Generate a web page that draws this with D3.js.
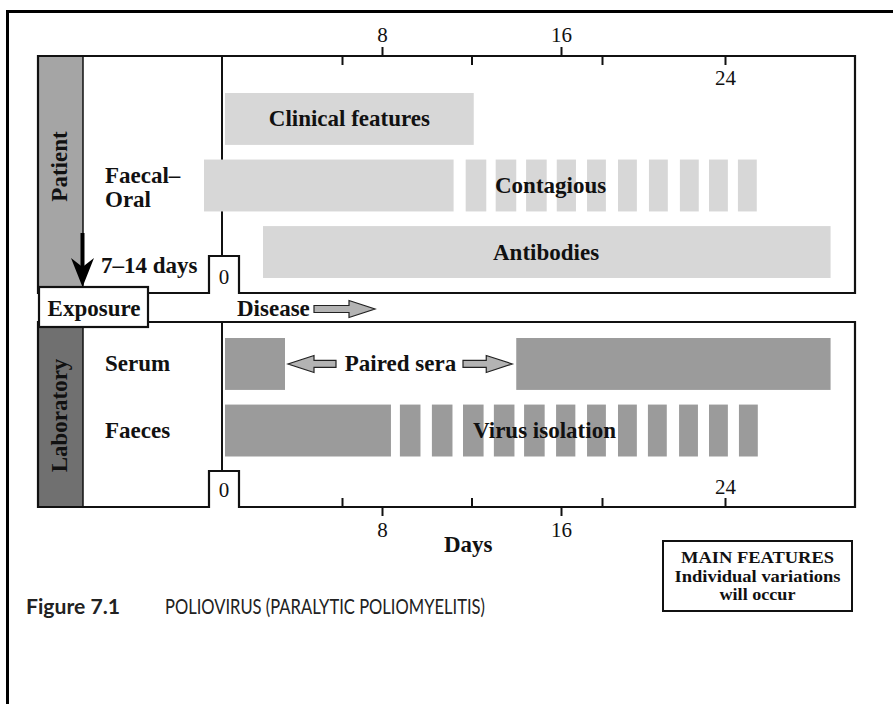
<!DOCTYPE html>
<html>
<head>
<meta charset="utf-8">
<script src="https://cdn.jsdelivr.net/npm/d3@7"></script>
<style>
  body { margin: 0; background: #fff; }
  .lbl { font-family: "Liberation Serif", "Times New Roman", serif; font-weight: bold; font-size: 23px; fill: #111; }
  .num { font-family: "Liberation Serif", "Times New Roman", serif; font-size: 21px; fill: #111; }
</style>
</head>
<body>
<svg width="893" height="704"></svg>
<script>
// day scale (hand drawn original, ticks not evenly spaced)
var dayStops = [0, 8, 16, 24, 30];
var outerTicks = [8, 16];
var innerTicks = [6, 12, 18, 24];
var innerLabels = [24];

var upperRows = ["Clinical features", "Contagious", "Antibodies"];
var lowerRows = ["Serum", "Faeces"];

var clinicalSpan = [0.15, 12.1];
var contagiousSolid = [-0.9, 11.2];
var contagiousDashes = [11.74, 13.08, 14.44, 15.81, 17.27, 18.78, 20.29, 21.8, 23.22, 24.63];
var antibodySpan = [2.05, 29.15];
var serumSpans = [[0.15, 3.15], [14.0, 29.15]];
var faecesSolid = [0.15, 8.4];
var faecesDashes = [8.8, 10.23, 11.62, 13.0, 14.35, 15.78, 17.27, 18.78, 20.24, 21.76, 23.22, 24.68];
var dashWidth = 0.92;

var noteLines = ["MAIN FEATURES", "Individual variations", "will occur"];
var noteWidths = [153, 166, 76];

var svg = d3.select("svg");
var x = d3.scaleLinear().domain(dayStops).range([222, 382, 561, 725, 848]);
var yUp = d3.scaleBand().domain(upperRows).range([93, 278]).paddingInner(0.22);
var yLo = d3.scaleBand().domain(lowerRows).range([338, 456.5]).paddingInner(0.22);

var light = "#d7d7d7", mid = "#9b9b9b";

// outer frame
svg.append("path").attr("d", "M7.5,704 V11.5 H893").attr("fill", "none")
    .attr("stroke", "#000").attr("stroke-width", 3);

// panels
var panels = [
    { top: 56, bottom: 293, side: "#a5a5a5", name: "Patient" },
    { top: 322, bottom: 507, side: "#707070", name: "Laboratory" }
];
panels.forEach(function (p, i) {
    var notchTop = i === 0 ? 256 : 471;
    svg.append("rect").attr("x", 38).attr("y", p.top).attr("width", 45)
        .attr("height", p.bottom - p.top).attr("fill", p.side);
    svg.append("path")
        .attr("d", "M38," + p.top + " H855 V" + p.bottom + " H239 V" + notchTop +
            " H209 V" + p.bottom + " H38 Z")
        .attr("fill", "none").attr("stroke", "#111").attr("stroke-width", 2.2);
    svg.append("line").attr("x1", 83).attr("x2", 83).attr("y1", p.top).attr("y2", p.bottom)
        .attr("stroke", "#111").attr("stroke-width", 1.5);
    svg.append("line").attr("x1", x(0)).attr("x2", x(0)).attr("y1", p.top).attr("y2", notchTop)
        .attr("stroke", "#111").attr("stroke-width", 2);
    svg.append("text").attr("class", "lbl").attr("text-anchor", "middle")
        .attr("transform", "translate(67," + ((p.top + p.bottom) / 2 - (i === 0 ? 8 : -1)) + ") rotate(-90)")
        .text(p.name);
    svg.append("text").attr("class", "num").attr("x", 224).attr("text-anchor", "middle")
        .attr("y", i === 0 ? 284 : 497).text("0");
});

// bars
var upperBars = [
    { row: "Clinical features", s: clinicalSpan[0], e: clinicalSpan[1] },
    { row: "Contagious", s: contagiousSolid[0], e: contagiousSolid[1] },
    { row: "Antibodies", s: antibodySpan[0], e: antibodySpan[1] }
].concat(contagiousDashes.map(function (d) { return { row: "Contagious", s: d, e: d + dashWidth }; }));
var lowerBars = serumSpans.map(function (d) { return { row: "Serum", s: d[0], e: d[1] }; })
    .concat([{ row: "Faeces", s: faecesSolid[0], e: faecesSolid[1] }])
    .concat(faecesDashes.map(function (d) { return { row: "Faeces", s: d, e: d + dashWidth }; }));

svg.append("g").selectAll("rect").data(upperBars).enter().append("rect")
    .attr("x", function (d) { return x(d.s); })
    .attr("width", function (d) { return x(d.e) - x(d.s); })
    .attr("y", function (d) { return yUp(d.row); })
    .attr("height", yUp.bandwidth())
    .attr("fill", light);
svg.append("g").selectAll("rect").data(lowerBars).enter().append("rect")
    .attr("x", function (d) { return x(d.s); })
    .attr("width", function (d) { return x(d.e) - x(d.s); })
    .attr("y", function (d) { return yLo(d.row); })
    .attr("height", yLo.bandwidth())
    .attr("fill", mid);

// bar labels
function midY(band, r) { return band(r) + band.bandwidth() / 2 + 7.5; }
svg.append("text").attr("class", "lbl").attr("text-anchor", "middle")
    .attr("x", (x(clinicalSpan[0]) + x(clinicalSpan[1])) / 2).attr("y", midY(yUp, "Clinical features"))
    .text("Clinical features");
svg.append("text").attr("class", "lbl").attr("x", 495).attr("y", midY(yUp, "Contagious")).text("Contagious");
svg.append("text").attr("class", "lbl").attr("x", 493).attr("y", midY(yUp, "Antibodies")).text("Antibodies");
svg.append("text").attr("class", "lbl").attr("x", 473).attr("y", midY(yLo, "Faeces")).text("Virus isolation");
svg.append("text").attr("class", "lbl").attr("x", 105).attr("y", midY(yLo, "Serum")).text("Serum");
svg.append("text").attr("class", "lbl").attr("x", 105).attr("y", midY(yLo, "Faeces")).text("Faeces");
svg.append("text").attr("class", "lbl").attr("x", 105).attr("y", 183).text("Faecal\u2013");
svg.append("text").attr("class", "lbl").attr("x", 105).attr("y", 207).text("Oral");
svg.append("text").attr("class", "lbl").attr("x", 101).attr("y", 273).text("7\u201314 days");

// block arrows
function blockArrow(tail, tip, cy) {
    var dir = tip > tail ? 1 : -1;
    var hb = tip - dir * 26;
    return "M" + tail + "," + (cy - 3.5) + " H" + hb + " V" + (cy - 8.5) + " L" + tip + "," + cy +
        " L" + hb + "," + (cy + 8.5) + " V" + (cy + 3.5) + " H" + tail + " Z";
}
var serumY = yLo("Serum") + yLo.bandwidth() / 2;
var arrows = [
    [314, 375, 309],
    [336, x(serumSpans[0][1]) + 3, serumY],
    [463, x(serumSpans[1][0]) - 4, serumY]
];
svg.append("g").selectAll("path").data(arrows).enter().append("path")
    .attr("d", function (d) { return blockArrow(d[0], d[1], d[2]); })
    .attr("fill", "#b3b3b3").attr("stroke", "#222").attr("stroke-width", 1.2);
svg.append("text").attr("class", "lbl").attr("text-anchor", "middle")
    .attr("x", 400.5).attr("y", serumY + 7.5).text("Paired sera");

// exposure box and disease
svg.append("rect").attr("x", 39).attr("y", 287).attr("width", 109).attr("height", 40)
    .attr("fill", "#fff").attr("stroke", "#111").attr("stroke-width", 2.2);
svg.append("text").attr("class", "lbl").attr("text-anchor", "middle")
    .attr("x", 94).attr("y", 316).text("Exposure");
svg.append("text").attr("class", "lbl").attr("x", 237).attr("y", 316).text("Disease");

// down arrow to exposure
svg.append("line").attr("x1", 82.5).attr("x2", 82.5).attr("y1", 233).attr("y2", 268)
    .attr("stroke", "#000").attr("stroke-width", 4);
svg.append("path").attr("d", "M71,258 L82.5,287 L94,258 L82.5,267 Z").attr("fill", "#000");

// day axes
function styleAxis(g) {
    g.select(".domain").remove();
    g.selectAll(".tick line").attr("stroke", "#111").attr("stroke-width", 2);
    g.selectAll(".tick text").attr("class", "num").attr("fill", "#111");
    g.attr("font-size", null).attr("font-family", null);
}
var tf = function (d) { return innerLabels.indexOf(d) >= 0 ? d : ""; };
svg.append("g").attr("transform", "translate(0,56)")
    .call(d3.axisTop(x).tickValues(outerTicks).tickSize(9).tickPadding(5)).call(styleAxis);
svg.append("g").attr("transform", "translate(0,56)")
    .call(d3.axisBottom(x).tickValues(innerTicks).tickSize(9).tickPadding(5).tickFormat(tf)).call(styleAxis);
svg.append("g").attr("transform", "translate(0,507)")
    .call(d3.axisBottom(x).tickValues(outerTicks).tickSize(9).tickPadding(6)).call(styleAxis);
svg.append("g").attr("transform", "translate(0,507)")
    .call(d3.axisTop(x).tickValues(innerTicks).tickSize(9).tickPadding(4).tickFormat(tf)).call(styleAxis);
svg.append("text").attr("class", "lbl").attr("x", 444).attr("y", 552).text("Days");

// main features note
svg.append("rect").attr("x", 663).attr("y", 541).attr("width", 189).attr("height", 70)
    .attr("fill", "#fff").attr("stroke", "#111").attr("stroke-width", 2);
noteLines.forEach(function (t, i) {
    svg.append("text").attr("class", "lbl").style("font-size", "16.5px")
        .attr("text-anchor", "middle").attr("x", 757.5).attr("y", 563 + i * 18.5)
        .attr("textLength", noteWidths[i]).attr("lengthAdjust", "spacingAndGlyphs")
        .text(t);
});

// caption
var capFont = "Lato, 'Open Sans', sans-serif";
svg.append("text").attr("x", 26).attr("y", 614)
    .style("font-family", capFont).style("font-size", "21px").style("font-weight", "bold")
    .style("fill", "#222").attr("textLength", 94).attr("lengthAdjust", "spacingAndGlyphs")
    .text("Figure 7.1");
svg.append("text").attr("x", 165).attr("y", 614)
    .style("font-family", capFont).style("font-size", "20.5px")
    .style("fill", "#222").attr("textLength", 320).attr("lengthAdjust", "spacingAndGlyphs")
    .text("POLIOVIRUS (PARALYTIC POLIOMYELITIS)");
</script>
</body>
</html>
